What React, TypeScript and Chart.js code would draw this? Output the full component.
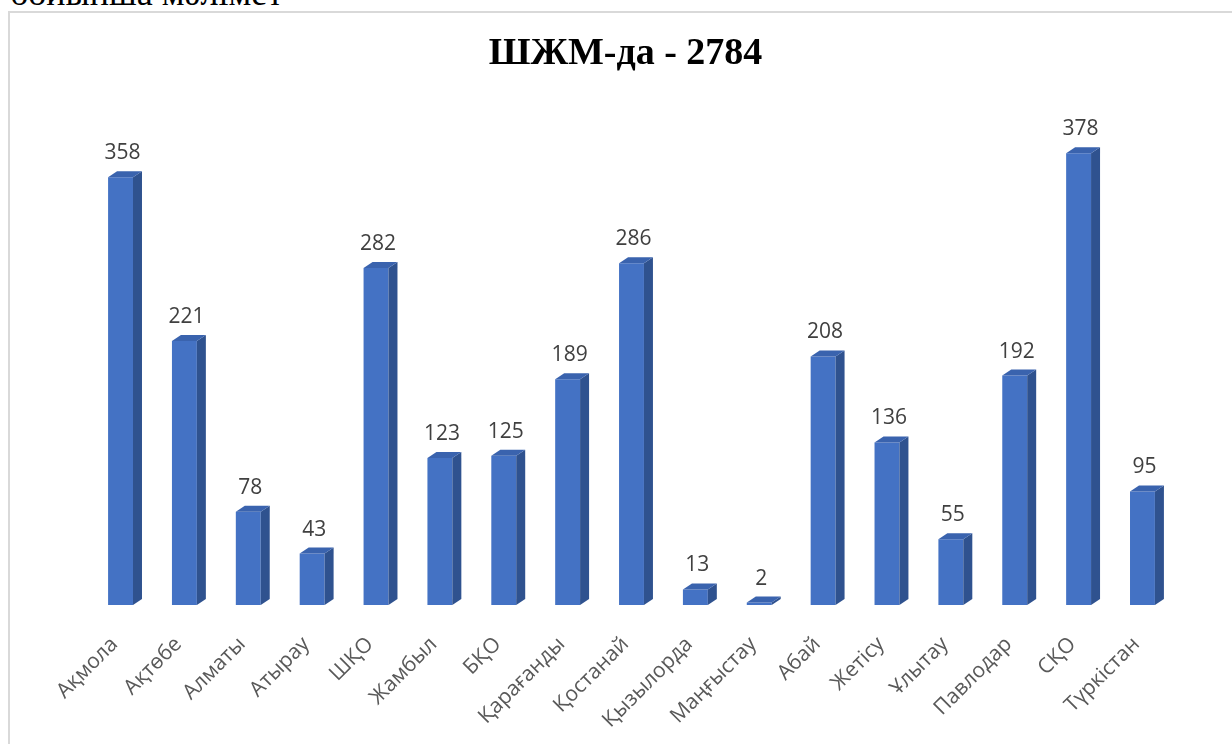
import React, { useEffect, useRef } from "react";
import { Chart, registerables } from "chart.js";

Chart.register(...registerables);

const categories = [
  "Ақмола", "Ақтөбе", "Алматы", "Атырау", "ШҚО", "Жамбыл", "БҚО", "Қарағанды",
  "Қостанай", "Қызылорда", "Маңғыстау", "Абай", "Жетісу", "Ұлытау", "Павлодар", "СҚО", "Түркістан",
];
const values = [358, 221, 78, 43, 282, 123, 125, 189, 286, 13, 2, 208, 136, 55, 192, 378, 95];
const titleText = "ШЖМ-да - 2784";
const headerText = "бойынша мәлімет";

const FRONT = "#4472C4";
const SIDE = "#2F528F";
const TOP = "#3A63AE";
const DX = 9;
const DY = 6;

const bar3d = {
  id: "bar3d",
  afterDatasetsDraw(chart: any) {
    const ctx = chart.ctx;
    const meta = chart.getDatasetMeta(0);
    ctx.save();
    meta.data.forEach((el: any, i: number) => {
      const { x, y, base, width } = el.getProps(["x", "y", "base", "width"], true);
      const l = x - width / 2;
      const r = x + width / 2;
      ctx.fillStyle = SIDE;
      ctx.beginPath();
      ctx.moveTo(r, y);
      ctx.lineTo(r + DX, y - DY);
      ctx.lineTo(r + DX, base - DY);
      ctx.lineTo(r, base);
      ctx.closePath();
      ctx.fill();
      ctx.fillStyle = TOP;
      ctx.beginPath();
      ctx.moveTo(l, y);
      ctx.lineTo(l + DX, y - DY);
      ctx.lineTo(r + DX, y - DY);
      ctx.lineTo(r, y);
      ctx.closePath();
      ctx.fill();
      ctx.fillStyle = "#404040";
      ctx.font = "21px 'Open Sans'";
      ctx.textAlign = "center";
      ctx.textBaseline = "alphabetic";
      ctx.fillText(String(values[i]), x + 2, y - 18);
    });
    ctx.restore();
  },
};

export default function App() {
  const ref = useRef<HTMLCanvasElement>(null);
  useEffect(() => {
    if (!ref.current) return;
    const chart = new Chart(ref.current, {
      type: "bar",
      data: {
        labels: categories,
        datasets: [
          {
            data: values,
            backgroundColor: FRONT,
            borderWidth: 0,
            barPercentage: 0.39,
            categoryPercentage: 1,
          },
        ],
      },
      options: {
        responsive: false,
        animation: false,
        devicePixelRatio: 1,
        layout: { padding: { left: 66.6, right: 57.6, top: 0, bottom: 0 } },
        plugins: {
          legend: { display: false },
          tooltip: { enabled: false },
          title: {
            display: true,
            text: titleText,
            color: "#000000",
            font: { family: "'Liberation Serif'", size: 38, weight: "bold" },
            padding: { top: 18, bottom: 50.4 },
          },
        },
        scales: {
          x: {
            grid: { display: false, drawTicks: false },
            border: { display: false },
            ticks: {
              color: "#595959",
              font: { family: "'Open Sans'", size: 21 },
              minRotation: 45,
              maxRotation: 45,
              padding: 27,
              labelOffset: -6,
              autoSkip: false,
            },
            afterFit: (s: any) => {
              s.height = 139;
            },
          },
          y: {
            min: 0,
            max: 400,
            grid: { display: false, drawTicks: false },
            border: { display: false },
            ticks: { display: false },
            afterFit: (s: any) => {
              s.width = 12;
            },
          },
        },
      },
      plugins: [bar3d],
    });
    return () => chart.destroy();
  }, []);

  return (
    <div style={{ position: "relative", width: 1232, height: 744, overflow: "hidden" }}>
      <style>{"body{margin:0;overflow:hidden;background:#fff}"}</style>
      <div
        style={{
          position: "absolute",
          left: 10,
          top: -25,
          fontFamily: "'Liberation Serif', serif",
          fontSize: 36,
          lineHeight: "36px",
          color: "#000",
          whiteSpace: "nowrap",
        }}
      >
        {headerText}
      </div>
      <div
        style={{
          position: "absolute",
          left: 8,
          top: 11,
          width: 1230,
          height: 740,
          borderLeft: "2px solid #d9d9d9",
          borderTop: "2px solid #d9d9d9",
        }}
      />
      <canvas
        ref={ref}
        width={1222}
        height={731}
        style={{ position: "absolute", left: 10, top: 13, width: 1222, height: 731 }}
      />
    </div>
  );
}
